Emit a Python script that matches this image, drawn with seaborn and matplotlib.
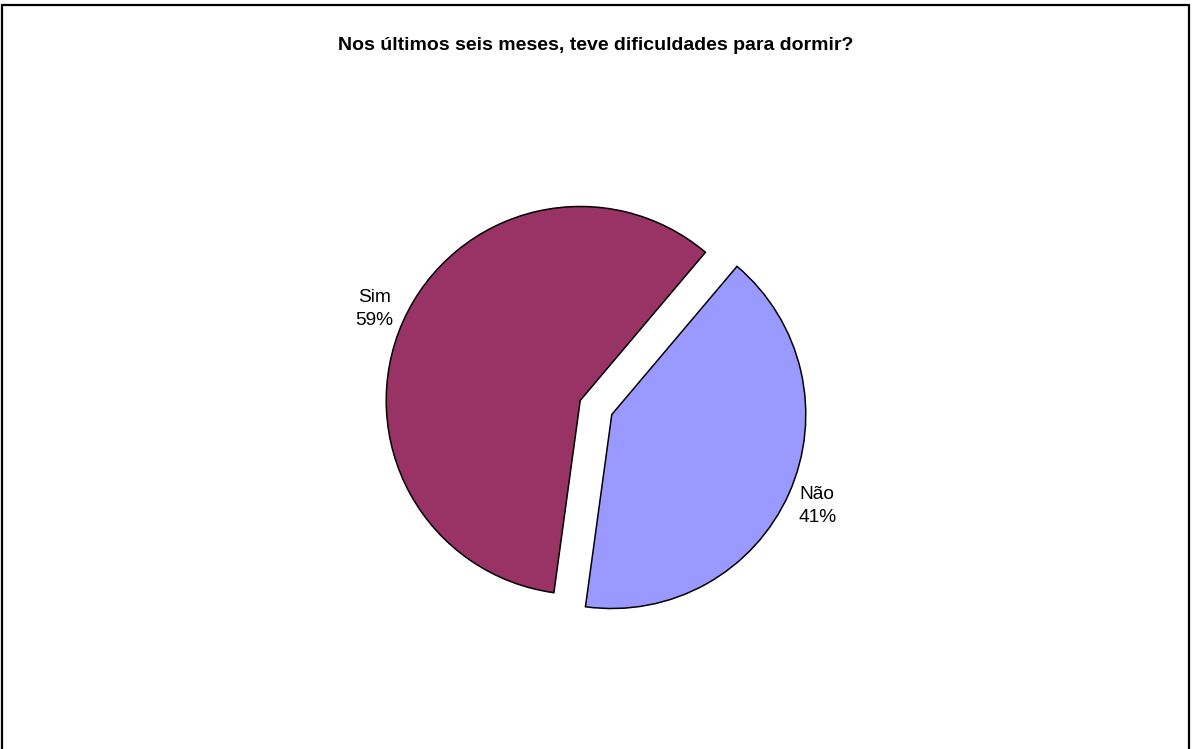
import matplotlib
matplotlib.use("Agg")
import matplotlib.pyplot as plt
import seaborn as sns
from matplotlib.patches import Rectangle

# Survey answers
categories = ["Sim", "Não"]
percentages = [59, 41]
colors = ["#993366", "#9999FF"]
title = "Nos últimos seis meses, teve dificuldades para dormir?"

sns.set_theme(style="white")
plt.rcParams["font.family"] = ["Liberation Sans", "DejaVu Sans"]

W, H = 1192, 749
fig = plt.figure(figsize=(W / 100, H / 100), dpi=100)
ax = fig.add_axes([0, 0, 1, 1])

labels = [f"{c}\n{p}%" for c, p in zip(categories, percentages)]
palette = sns.color_palette(colors)

wedges, texts = ax.pie(
    percentages,
    labels=labels,
    colors=palette,
    startangle=49.8,
    counterclock=True,
    explode=[0.089, 0.089],
    labeldistance=1.16,
    wedgeprops=dict(edgecolor="black", linewidth=1.1),
    textprops=dict(fontsize=13.8, color="black"),
)
for t in texts:
    t.set_horizontalalignment("center")
    t.set_multialignment("center")
    t.set_linespacing(1.45)

# Place the pie: 1 unit = 194 px, centre at (596, 407.5) px from top-left
scale = 194.0
cx, cy = 596.0, 407.5
ax.set_xlim(-cx / scale, (W - cx) / scale)
ax.set_ylim(-(H - cy) / scale, cy / scale)
ax.set_aspect("auto")
ax.axis("off")

fig.text(0.5, 1 - 46 / H, title, ha="center", va="center",
         fontsize=14, fontweight="bold", color="black")

# Chart area frame
fig.patches.append(Rectangle((2 / W, -0.05), (1189 - 2) / W, (H - 5) / H + 0.05,
                             transform=fig.transFigure, fill=False,
                             edgecolor="black", linewidth=1.6, zorder=10))

fig.savefig("out.png", dpi=100, facecolor="white")
